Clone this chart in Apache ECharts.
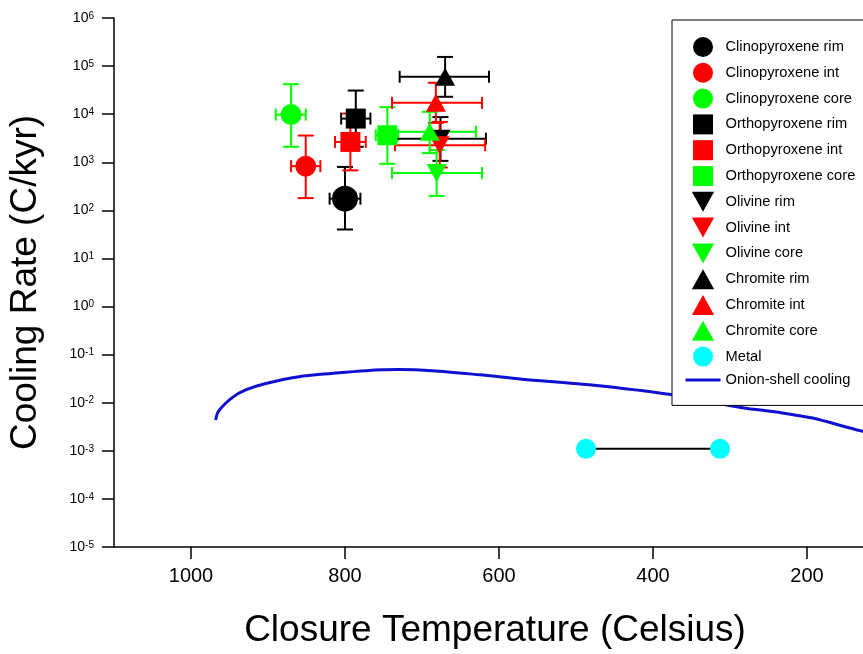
<!DOCTYPE html>
<html>
<head>
<meta charset="utf-8">
<script src="https://cdn.jsdelivr.net/npm/echarts@6/dist/echarts.min.js"></script>
<style>
html,body{margin:0;padding:0;background:#fff;}
#chart{width:863px;height:654px;}
</style>
</head>
<body>
<div id="chart"></div>
<script>
// ---- data ----
// each point: [T, rate, Tlow, Thigh, rateLow, rateHigh]
var cpxRim  = [[800, 175, 780, 820, 40, 800]];
var cpxInt  = [[851, 830, 832, 870, 180, 3600]];
var cpxCore = [[870, 9800, 851, 890, 2100, 42000]];
var opxRim  = [[786, 8100, 767, 805, 2100, 31000]];
var opxInt  = [[793, 2650, 773, 813, 680, 10300]];
var opxCore = [[745, 3650, 731, 760, 930, 14000]];
var olRim   = [[676, 3100, 617, 734, 1070, 8700]];
var olInt   = [[677, 2260, 618, 735, 780, 6900]];
var olCore  = [[681, 600, 622, 739, 200, 1800]];
var chrRim  = [[670, 60000, 613, 729, 23000, 155000]];
var chrInt  = [[682, 17200, 622, 739, 6600, 45000]];
var chrCore = [[690, 4300, 630, 740, 1550, 11200]];
var metal   = [[487, 0.0011], [313, 0.0011]];
var onionT    = [968, 964, 946, 929, 903, 860, 817, 773, 730, 687, 625, 570, 483, 377, 284, 236, 193, 130, 100];
var onionRate = [0.00437, 0.00676, 0.0129, 0.0184, 0.0251, 0.0348, 0.0407, 0.0465, 0.049, 0.0465, 0.038, 0.0309, 0.0237, 0.0148, 0.0079, 0.0063, 0.0048, 0.0026, 0.0021];
var xTicks = [200, 400, 600, 800, 1000];
var yExponents = [-5, -4, -3, -2, -1, 0, 1, 2, 3, 4, 5, 6];

// ---- styling ----
var FONT = 'Arial, "Liberation Sans", sans-serif';
var BLACK = '#000000', RED = '#ff0000', GREEN = '#00ff00', CYAN = '#00ffff', BLUE = '#1010d0';
var DOWN = 'path://M0,0 L20,0 L10,18 Z';
var UP = 'path://M10,0 L20,18 L0,18 Z';
var SQUARE = 'path://M0,0 L18,0 L18,18 L0,18 Z';

var groups = [
  {name: 'Clinopyroxene rim',  data: cpxRim,  color: BLACK, symbol: 'circle', size: 26, icon: 'circle'},
  {name: 'Clinopyroxene int',  data: cpxInt,  color: RED,   symbol: 'circle', size: 21, icon: 'circle'},
  {name: 'Clinopyroxene core', data: cpxCore, color: GREEN, symbol: 'circle', size: 21, icon: 'circle'},
  {name: 'Orthopyroxene rim',  data: opxRim,  color: BLACK, symbol: 'rect', size: 20, icon: SQUARE},
  {name: 'Orthopyroxene int',  data: opxInt,  color: RED,   symbol: 'rect', size: 20, icon: SQUARE},
  {name: 'Orthopyroxene core', data: opxCore, color: GREEN, symbol: 'rect', size: 20, icon: SQUARE},
  {name: 'Olivine rim',  data: olRim,  color: BLACK, symbol: 'triangle', rotate: 180, size: [20, 18], icon: DOWN},
  {name: 'Olivine int',  data: olInt,  color: RED,   symbol: 'triangle', rotate: 180, size: [20, 18], icon: DOWN},
  {name: 'Olivine core', data: olCore, color: GREEN, symbol: 'triangle', rotate: 180, size: [20, 18], icon: DOWN},
  {name: 'Chromite rim',  data: chrRim,  color: BLACK, symbol: 'triangle', size: [20, 18], icon: UP},
  {name: 'Chromite int',  data: chrInt,  color: RED,   symbol: 'triangle', size: [20, 18], icon: UP},
  {name: 'Chromite core', data: chrCore, color: GREEN, symbol: 'triangle', size: [20, 18], icon: UP}
];

function errRender(color) {
  return function (params, api) {
    var x = api.value(0), y = api.value(1);
    var l = api.coord([api.value(2), y]), r = api.coord([api.value(3), y]);
    var b = api.coord([x, api.value(4)]), t = api.coord([x, api.value(5)]);
    var hc = 6, vc = 8;
    var st = {stroke: color, lineWidth: 2};
    function ln(x1, y1, x2, y2) { return {type: 'line', shape: {x1: x1, y1: y1, x2: x2, y2: y2}, style: st}; }
    return {type: 'group', children: [
      ln(l[0], l[1], r[0], r[1]),
      ln(l[0], l[1] - hc, l[0], l[1] + hc),
      ln(r[0], r[1] - hc, r[0], r[1] + hc),
      ln(t[0], t[1], b[0], b[1]),
      ln(t[0] - vc, t[1], t[0] + vc, t[1]),
      ln(b[0] - vc, b[1], b[0] + vc, b[1])
    ]};
  };
}

var series = [];
series.push({
  name: 'Onion-shell cooling', type: 'line', showSymbol: false, symbol: 'none',
  data: onionT.map(function (t, i) { return [t, onionRate[i]]; }),
  lineStyle: {color: BLUE, width: 3}, itemStyle: {color: BLUE}, smooth: 0.3, z: 1
});
series.push({
  name: 'metal-link', type: 'line', symbol: 'none', data: metal,
  lineStyle: {color: BLACK, width: 2}, z: 1
});
groups.forEach(function (g) {
  series.push({
    name: g.name + '-err', type: 'custom', renderItem: errRender(g.color),
    data: g.data, encode: {x: 0, y: 1}, dimensions: ['x', 'y', 'x0', 'x1', 'y0', 'y1']
  });
  series.push({
    name: g.name, type: 'scatter', symbol: g.symbol, symbolSize: g.size, symbolRotate: g.rotate || 0,
    data: g.data.map(function (d) { return [d[0], d[1]]; }),
    itemStyle: {color: g.color, opacity: 1}
  });
});
series.push({
  name: 'Metal', type: 'scatter', symbol: 'circle', symbolSize: 20, data: metal,
  itemStyle: {color: CYAN, opacity: 1}
});

var legendData = groups.map(function (g) {
  return {name: g.name, icon: g.icon, itemStyle: {color: g.color}};
});
legendData.push({name: 'Metal', icon: 'circle', itemStyle: {color: CYAN}});
legendData.push({name: 'Onion-shell cooling', icon: 'path://M0,0 L35,0 L35,3 L0,3 Z', itemStyle: {color: BLUE}});

var chart = echarts.init(document.getElementById('chart'));
chart.setOption({
  animation: false,
  backgroundColor: '#ffffff',
  textStyle: {fontFamily: FONT},
  grid: {left: 114, right: -21, top: 18, bottom: 107, containLabel: false, outerBoundsMode: 'none'},
  legend: {
    orient: 'vertical', left: 672, top: 20,
    padding: [17, 30, 18, 13.5],
    itemWidth: 35, itemHeight: 20, itemGap: 5.8,
    borderColor: BLACK, borderWidth: 1, backgroundColor: '#ffffff',
    selectedMode: false,
    textStyle: {fontSize: 14.7, color: BLACK, fontFamily: FONT},
    data: legendData, z: 10
  },
  xAxis: {
    type: 'value', inverse: true, min: 100, max: 1100,
    name: 'Closure Temperature (Celsius)', nameLocation: 'middle', nameGap: 65,
    nameTextStyle: {fontSize: 37, color: BLACK, fontFamily: FONT, padding: [0, 8, 0, 0]},
    axisLine: {show: true, onZero: false, lineStyle: {color: BLACK, width: 1.5}},
    axisTick: {show: true, length: 12, inside: false, customValues: xTicks, lineStyle: {color: BLACK, width: 1.5}},
    axisLabel: {fontSize: 20, color: BLACK, margin: 19, customValues: xTicks, fontFamily: FONT,
      formatter: function (v) { return String(v); }},
    splitLine: {show: false}
  },
  yAxis: {
    type: 'log', logBase: 10, min: 1e-5, max: 1e6,
    name: 'Cooling Rate (C/kyr)', nameLocation: 'middle', nameGap: 70, nameRotate: 90,
    nameTextStyle: {fontSize: 37, color: BLACK, fontFamily: FONT},
    axisLine: {show: true, onZero: false, lineStyle: {color: BLACK, width: 1.5}},
    axisTick: {show: true, length: 12, lineStyle: {color: BLACK, width: 1.5},
      customValues: yExponents.map(function (e) { return Math.pow(10, e); })},
    axisLabel: {
      margin: 20, color: BLACK, fontFamily: FONT,
      customValues: yExponents.map(function (e) { return Math.pow(10, e); }),
      formatter: function (v) {
        var e = Math.round(Math.log(v) / Math.LN10);
        return '{b|10}{s|' + e + '}';
      },
      rich: {
        b: {fontSize: 14, lineHeight: 14, color: BLACK, fontFamily: FONT},
        s: {fontSize: 10, lineHeight: 10, verticalAlign: 'top', color: BLACK, fontFamily: FONT}
      }
    },
    splitLine: {show: false},
    minorTick: {show: false}
  },
  series: series
});
</script>
</body>
</html>
